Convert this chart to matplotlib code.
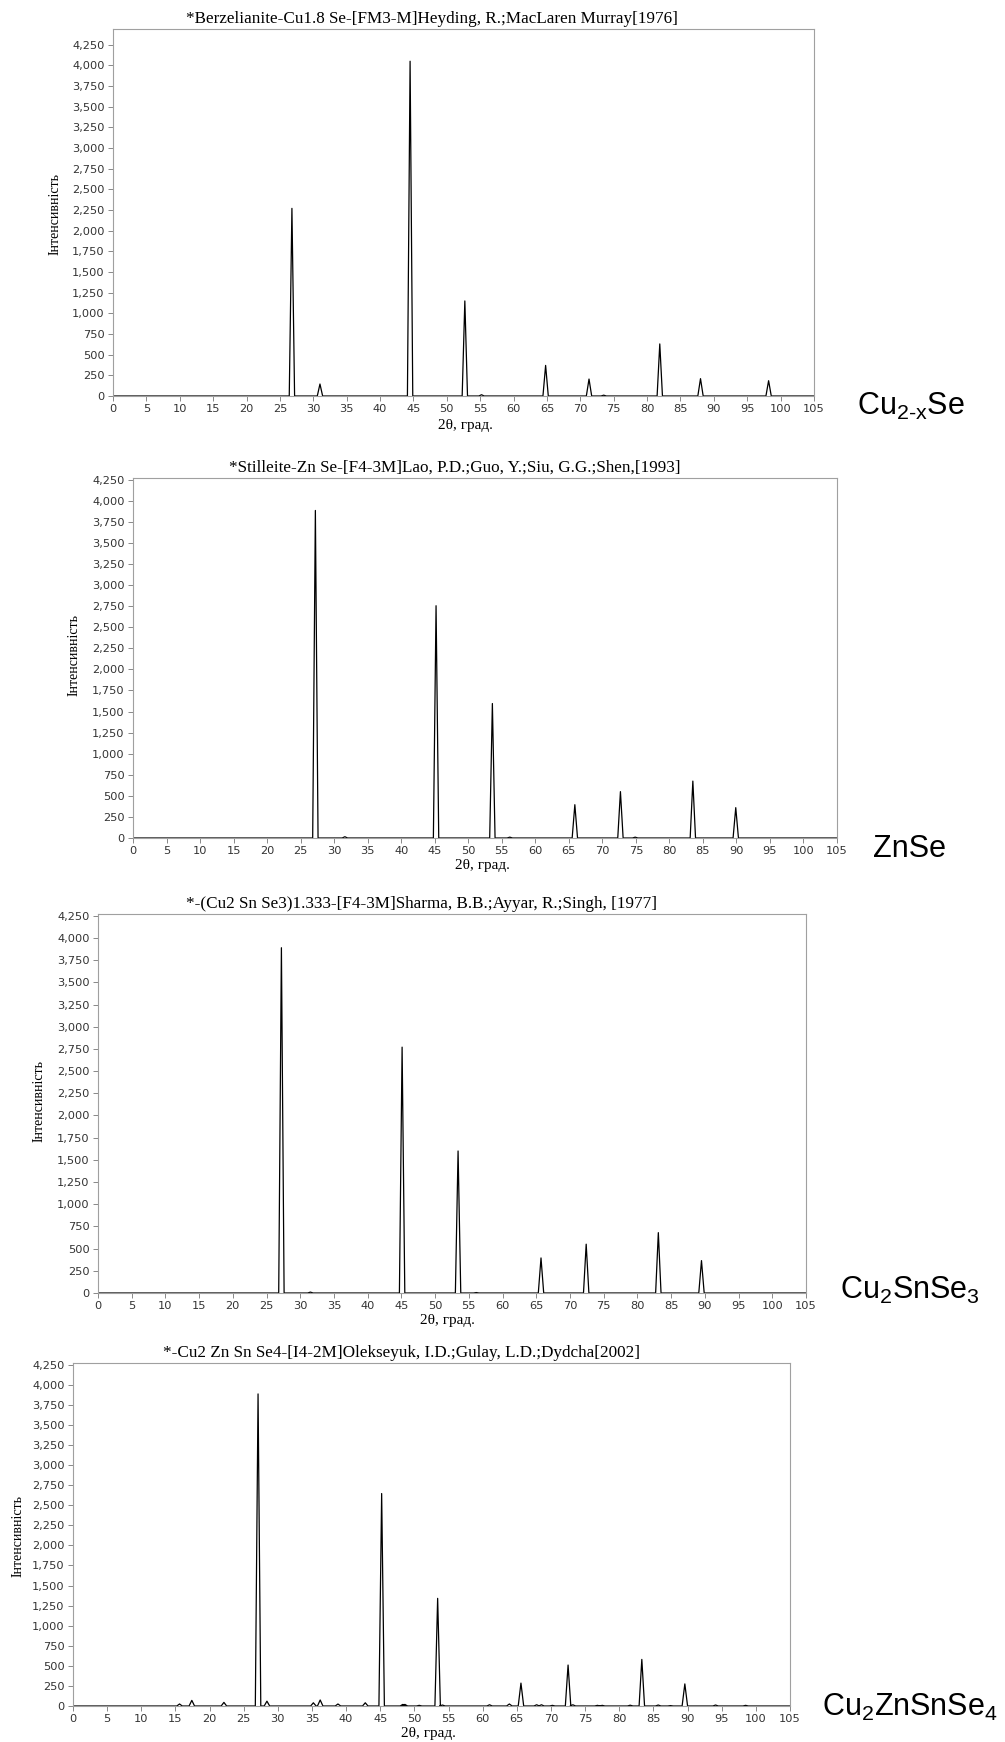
import numpy as np
import matplotlib.pyplot as plt
from matplotlib.ticker import FuncFormatter, MultipleLocator

plt.rcParams['mathtext.fontset'] = 'custom'
plt.rcParams['mathtext.rm'] = 'Liberation Sans'
plt.rcParams['mathtext.it'] = 'Liberation Sans'

# XRD reference cards (peak 2theta, intensity)
titles = [
    '*Berzelianite-Cu1.8 Se-[FM3-M]Heyding, R.;MacLaren Murray[1976]',
    '*Stilleite-Zn Se-[F4-3M]Lao, P.D.;Guo, Y.;Siu, G.G.;Shen,[1993]',
    '*-(Cu2 Sn Se3)1.333-[F4-3M]Sharma, B.B.;Ayyar, R.;Singh, [1977]',
    '*-Cu2 Zn Sn Se4-[I4-2M]Olekseyuk, I.D.;Gulay, L.D.;Dydcha[2002]',
]
phases = [r'Cu$_{\mathregular{2\text{-}x}}$Se', 'ZnSe',
          r'Cu$_\mathregular{2}$SnSe$_\mathregular{3}$',
          r'Cu$_\mathregular{2}$ZnSnSe$_\mathregular{4}$']

cu2xse_pos = [26.8, 31.0, 44.5, 52.7, 55.2, 64.8, 71.3, 73.5, 81.9, 88.0, 98.2]
cu2xse_int = [2270, 145, 4050, 1150, 15, 370, 205, 10, 630, 210, 185]

znse_pos = [27.2, 31.6, 45.2, 53.6, 56.2, 65.9, 72.7, 74.9, 83.5, 89.9]
znse_int = [3885, 15, 2755, 1595, 10, 395, 550, 10, 675, 360]

cts_pos = [27.2, 31.5, 45.1, 53.4, 56.1, 65.7, 72.4, 83.1, 89.5]
cts_int = [3890, 10, 2770, 1600, 5, 395, 550, 680, 365]

czts_pos = [15.6, 17.4, 22.1, 27.1, 28.4, 35.2, 36.2, 38.8, 42.8, 45.2, 48.3, 48.6,
            50.7, 53.4, 54.1, 61.0, 63.9, 65.6, 67.9, 68.6, 70.2, 72.5, 73.2, 76.8,
            77.5, 81.6, 83.3, 85.7, 87.5, 89.6, 94.1, 98.5]
czts_int = [25, 70, 45, 3885, 60, 40, 75, 25, 40, 2645, 20, 20,
            8, 1340, 12, 15, 25, 285, 15, 15, 8, 510, 15, 8,
            8, 10, 580, 12, 5, 275, 12, 8]

patterns = [(cu2xse_pos, cu2xse_int), (znse_pos, znse_int),
            (cts_pos, cts_int), (czts_pos, czts_int)]

W, H = 1005, 1742
# axes boxes in pixels: left, right, top, bottom
boxes = [(113, 814, 29, 396), (133, 837, 478, 838),
         (98, 806, 914, 1293), (73, 790, 1363, 1706)]
ytops = [4440, 4270, 4270, 4270]
title_xy = [(432, 19), (455, 468), (421, 904), (401, 1353)]
ylab_xy = [(55, 214), (74, 655), (39, 1101), (18, 1536)]
xlab_xy = [(465, 425), (482, 865), (447, 1320), (428, 1733)]
phase_xy = [(857, 415), (873, 857), (840, 1299), (822, 1716)]

fig = plt.figure(figsize=(W / 100, H / 100), dpi=100)

for i, (pos, inten) in enumerate(patterns):
    l, r, t, b = boxes[i]
    ax = fig.add_axes([l / W, 1 - b / H, (r - l) / W, (b - t) / H])

    # each reflection drawn as a narrow peak on a zero baseline
    hw = 0.4
    xs, ys = [0], [0]
    for p, h in zip(pos, inten):
        xs += [p - hw, p, p + hw]
        ys += [0, h, 0]
    xs.append(105)
    ys.append(0)
    ax.plot(xs, ys, color='black', lw=0.9)

    ax.set_xlim(0, 105)
    ax.set_ylim(0, ytops[i])
    ax.xaxis.set_major_locator(MultipleLocator(5))
    ax.yaxis.set_major_locator(MultipleLocator(250))
    ax.yaxis.set_major_formatter(FuncFormatter(lambda v, _: f'{int(v):,}'))
    ax.tick_params(direction='out', length=3.5, width=0.7, color='#888888',
                   labelcolor='#333333', labelsize=8.2, pad=2.5)
    ax.tick_params(axis='x', pad=2)
    for s in ax.spines.values():
        s.set_color('#a0a0a0')
        s.set_linewidth(0.8)

    fig.text(title_xy[i][0] / W, 1 - title_xy[i][1] / H, titles[i],
             ha='center', va='center', fontsize=12.3, family='Liberation Serif')
    fig.text(ylab_xy[i][0] / W, 1 - ylab_xy[i][1] / H, 'Інтенсивність',
             ha='center', va='center', rotation=90, fontsize=10,
             family='Liberation Serif')
    fig.text(xlab_xy[i][0] / W, 1 - xlab_xy[i][1] / H, '2θ, град.',
             ha='center', va='center', fontsize=11, family='Liberation Serif')
    fig.text(phase_xy[i][0] / W, 1 - phase_xy[i][1] / H, phases[i],
             ha='left', va='baseline', fontsize=22, family='Liberation Sans')

fig.savefig('out.png', dpi=100)
